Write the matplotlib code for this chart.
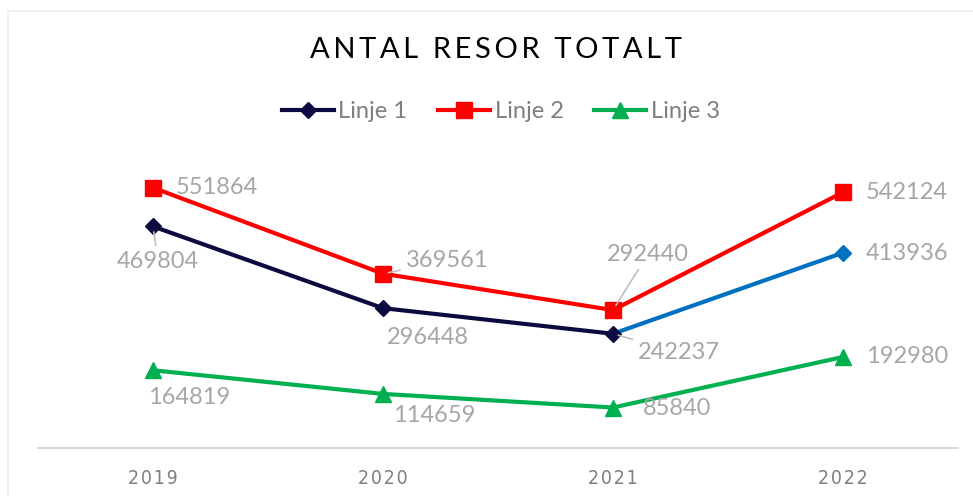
import matplotlib
matplotlib.use("Agg")
import matplotlib.pyplot as plt
from matplotlib.lines import Line2D
from matplotlib.patches import Rectangle

years = ["2019", "2020", "2021", "2022"]
linje1 = [469804, 296448, 242237, 413936]
linje2 = [551864, 369561, 292440, 542124]
linje3 = [164819, 114659, 85840, 192980]
series_names = ["Linje 1", "Linje 2", "Linje 3"]
title = "ANTAL RESOR TOTALT"

c1 = "#0B0B40"
c1b = "#0070C0"
c2 = "#FF0000"
c3 = "#00B050"
lab_col = "#A6A6A6"
FONT = ["Lato", "DejaVu Sans"]

fig = plt.figure(figsize=(9.73, 4.96), dpi=100)
fig.patches.append(Rectangle((8/973, -0.1), 1.2, (496-11)/496 + 0.1, transform=fig.transFigure,
                             fill=False, edgecolor="#EFEFEF", lw=1.2))
ax = fig.add_axes([38/973, 48/496, 920/973, (448-165)/496])
x = list(range(len(years)))

lw = 3.0
ax.plot(x[:3], linje1[:3], color=c1, lw=lw, marker="D", ms=8, zorder=3)
ax.plot(x[2:], linje1[2:], color=c1b, lw=lw, zorder=2)
ax.plot(x[3:], linje1[3:], color=c1b, lw=0, marker="D", ms=8, zorder=3)
ax.plot(x, linje2, color=c2, lw=lw, marker="s", ms=11, zorder=3)
ax.plot(x, linje3, color=c3, lw=lw, marker="^", ms=11, zorder=3)

ax.set_xlim(-0.5, 3.5)
ax.set_ylim(0, 600000)
for s in ["top", "right", "left"]:
    ax.spines[s].set_visible(False)
ax.spines["bottom"].set_color("#D9D9D9")
ax.spines["bottom"].set_linewidth(1.5)
ax.set_yticks([])
ax.set_xticks(x)
ax.set_xticklabels(["\u200a".join(y) for y in years], fontfamily=["DejaVu Sans"], fontstretch="condensed",
                   fontsize=14, color="#7F7F7F")
ax.tick_params(axis="x", length=0, pad=15)

# data labels: (offset px x, offset px y, leader)
offs1 = [(5, -35, True), (45, -29, False), (66, -19, True), (64, -1, False)]
offs2 = [(64, 0, False), (64, 13, True), (35, 56, True), (64, 0, False)]
offs3 = [(36, -27, False), (51, -22, False), (64, -1, False), (64, 0, False)]
for vals, offs in [(linje1, offs1), (linje2, offs2), (linje3, offs3)]:
    for i, v in enumerate(vals):
        dx, dy, lead = offs[i]
        kw = {}
        if lead:
            kw["arrowprops"] = dict(arrowstyle="-", color="#BFBFBF", lw=1.2, shrinkA=2, shrinkB=4)
        ax.annotate(str(v), (i, v), xytext=(dx, dy), textcoords="offset pixels",
                    ha="center", va="center", fontsize=17, color=lab_col, fontfamily=FONT,
                    zorder=4, **kw)

fig.text(496/973, (496-50)/496, "\u2009".join(title), ha="center", va="center", fontsize=21,
         fontfamily=FONT, fontweight="normal", color="#000000")

handles = [
    Line2D([], [], color=c1, lw=lw, marker="D", ms=8),
    Line2D([], [], color=c2, lw=lw, marker="s", ms=11),
    Line2D([], [], color=c3, lw=lw, marker="^", ms=11),
]
leg = fig.legend(handles, series_names, loc="center", bbox_to_anchor=(501/973, (496-112)/496),
                 ncol=3, frameon=False, handlelength=2.2, handletextpad=0.2, columnspacing=1.3,
                 prop={"family": FONT, "size": 17})
for t in leg.get_texts():
    t.set_color("#7F7F7F")

fig.savefig("out.png", dpi=100)
